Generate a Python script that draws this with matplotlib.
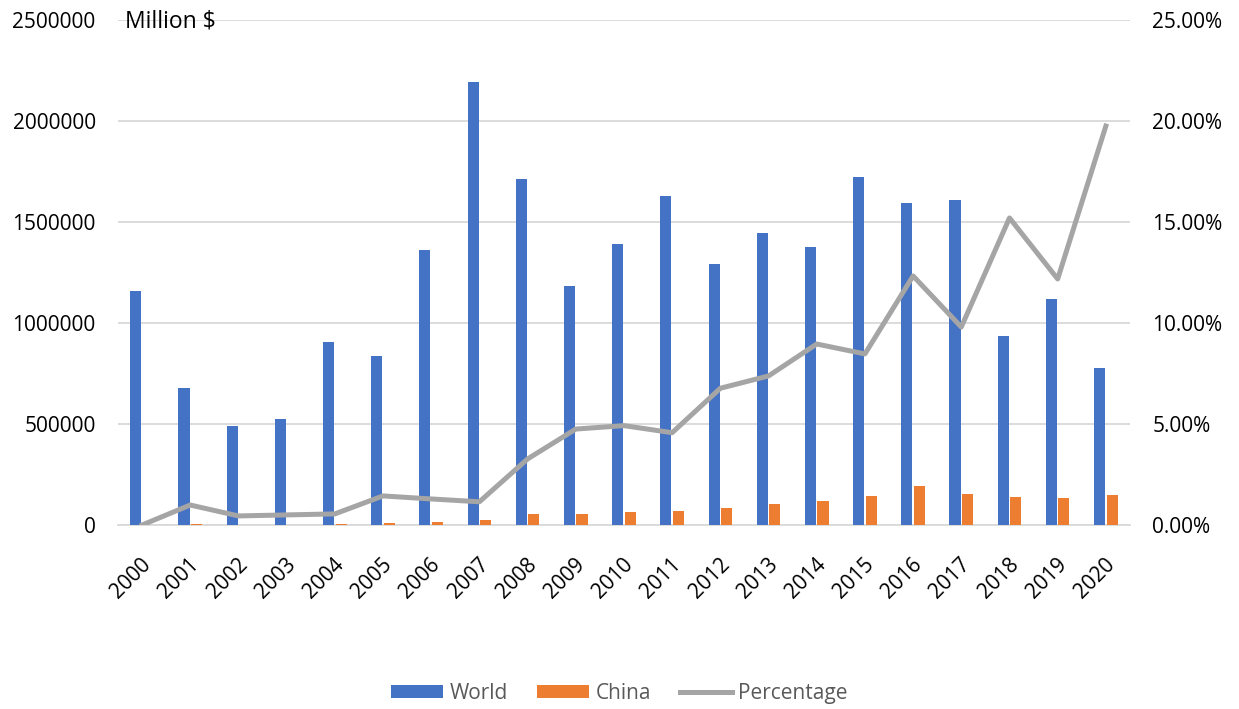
import matplotlib
matplotlib.use("Agg")
import matplotlib.pyplot as plt
import matplotlib.transforms as mtransforms
import numpy as np
from matplotlib.ticker import FuncFormatter

years = [str(y) for y in range(2000, 2021)]
world = [1158000, 678000, 490000, 525000, 906000, 837000, 1361000, 2193000, 1713000, 1183000,
         1391000, 1629000, 1292000, 1445000, 1376000, 1723000, 1594000, 1609000, 936000, 1119000, 777000]
china = [0, 4000, 1000, 1000, 3000, 9000, 14000, 23000, 53000, 53000,
         66000, 71000, 86000, 104000, 119000, 142000, 193000, 155000, 140000, 135000, 150000]
percentage = [0.0, 0.99, 0.45, 0.50, 0.55, 1.44, 1.29, 1.15, 3.27, 4.75,
              4.92, 4.57, 6.77, 7.38, 8.96, 8.47, 12.33, 9.80, 15.20, 12.18, 19.75]

plt.rcParams['font.family'] = ['Open Sans', 'DejaVu Sans']

fig = plt.figure(figsize=(12.39, 7.09), dpi=100)
ax = fig.add_axes([0.0952, 0.2595, 0.8168, 0.7123])
x = np.arange(len(years))
w = 0.23
ax.bar(x - 0.13, world, width=w, color='#4472C4', label='World', zorder=3)
ax.bar(x + 0.13, china, width=w, color='#ED7D31', label='China', zorder=3)
ax.set_xlim(-0.5, len(years) - 0.5)
ax.set_ylim(0, 2500000)
ax.set_yticks(np.arange(0, 2500001, 500000))
ax.yaxis.set_major_formatter(FuncFormatter(lambda v, p: f"{int(v)}"))
ax.grid(axis='y', color='#D9D9D9', linewidth=1.3, zorder=0)
ax.set_axisbelow(True)
for s in ['top', 'right', 'left']:
    ax.spines[s].set_visible(False)
ax.spines['bottom'].set_color('#D9D9D9')
ax.spines['bottom'].set_linewidth(1.3)
ax.tick_params(axis='both', length=0, labelsize=15, colors='black')
ax.tick_params(axis='y', pad=16)
ax.tick_params(axis='x', pad=20)
ax.set_xticks(x)
ax.set_xticklabels(years, rotation=45, ha='right', va='center', rotation_mode='anchor')
offset = mtransforms.ScaledTranslation(6 / 100, -9 / 100, fig.dpi_scale_trans)
for lbl in ax.get_xticklabels():
    lbl.set_transform(lbl.get_transform() + offset)

ax2 = ax.twinx()
ax2.plot(x, percentage, color='#A5A5A5', linewidth=3.6, label='Percentage', zorder=4)
ax2.set_ylim(0, 25)
ax2.set_yticks(np.arange(0, 25.01, 5))
ax2.yaxis.set_major_formatter(FuncFormatter(lambda v, p: f"{v:.2f}%"))
for s in ['top', 'right', 'left', 'bottom']:
    ax2.spines[s].set_visible(False)
ax2.tick_params(axis='y', length=0, labelsize=15, pad=16)

fig.text(0.101, 0.969, 'Million $', fontsize=16.5, va='center', ha='left')

h1, l1 = ax.get_legend_handles_labels()
h2, l2 = ax2.get_legend_handles_labels()
fig.legend(h1 + h2, l1 + l2, loc='center', bbox_to_anchor=(0.5, 0.022), ncol=3, frameon=False,
           fontsize=15, handlelength=2.5, handleheight=0.6, columnspacing=1.4, handletextpad=0.3,
           labelcolor='#595959')

fig.savefig('out.png', dpi=100)
